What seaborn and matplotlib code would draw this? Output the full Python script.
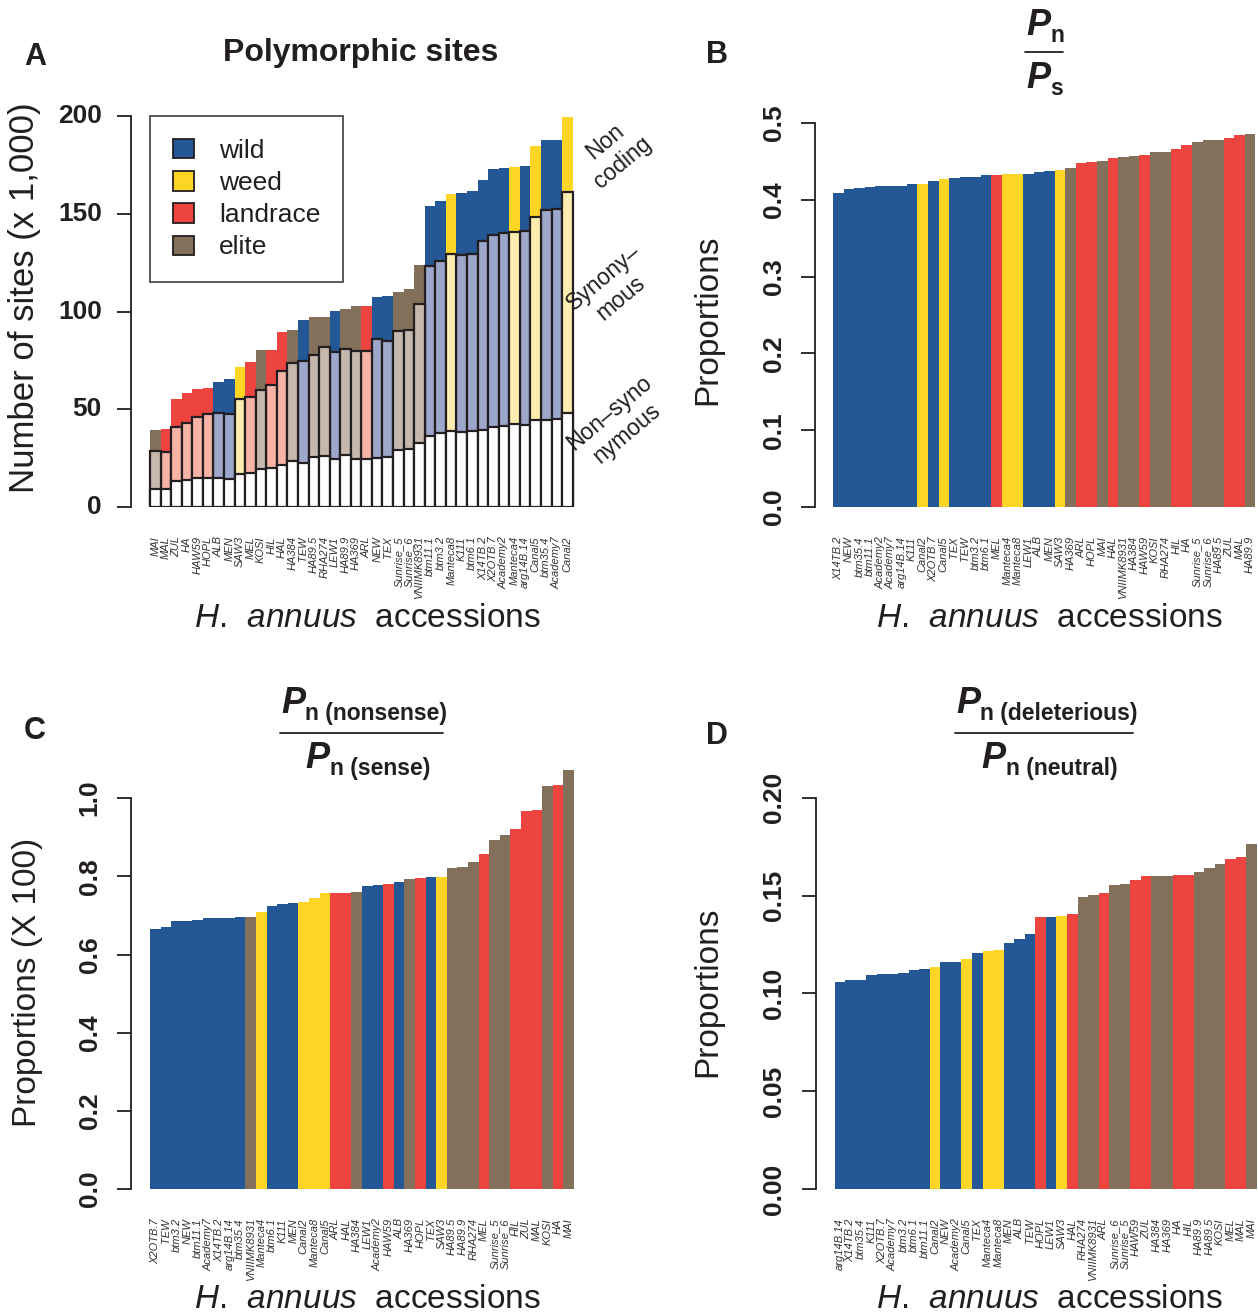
import matplotlib
matplotlib.use("Agg")
import matplotlib.pyplot as plt
from matplotlib.patches import Patch
from matplotlib.lines import Line2D
import numpy as np
import pandas as pd
import seaborn as sns

# accession groups
wild = ['ALB', 'MEN', 'TEW', 'LEW1', 'NEW', 'TEX', 'btm11.1', 'btm3.2', 'K111', 'btm6.1',
        'X14TB.2', 'X2OTB.7', 'Academy2', 'arg14B.14', 'btm35.4', 'Academy7']
weed = ['SAW3', 'Manteca8', 'Manteca4', 'Canal5', 'Canal2']
landrace = ['MAL', 'ZUL', 'HA', 'HAW59', 'HOPL', 'MEL', 'HIL', 'HAL', 'ARL']
elite = ['MAI', 'KOSI', 'HA384', 'HA89.5', 'RHA274', 'HA89.9', 'HA369', 'Sunrise_5',
         'Sunrise_6', 'VNIIMK8931']

groups = ['wild', 'weed', 'landrace', 'elite']
group_colors = {'wild': '#235795', 'weed': '#FDD525', 'landrace': '#EE4440', 'elite': '#82705A'}
light_colors = {'wild': '#9DA6CB', 'weed': '#FEEDAF', 'landrace': '#F7B4A6', 'elite': '#C6B8AC'}

# A - polymorphic sites (x 1,000): nonsynonymous / synonymous / noncoding
a_order = ['MAI', 'MAL', 'ZUL', 'HA', 'HAW59', 'HOPL', 'ALB', 'MEN', 'SAW3', 'MEL', 'KOSI',
           'HIL', 'HAL', 'HA384', 'TEW', 'HA89.5', 'RHA274', 'LEW1', 'HA89.9', 'HA369', 'ARL',
           'NEW', 'TEX', 'Sunrise_5', 'Sunrise_6', 'VNIIMK8931', 'btm11.1', 'btm3.2',
           'Manteca8', 'K111', 'btm6.1', 'X14TB.2', 'X2OTB.7', 'Academy2', 'Manteca4',
           'arg14B.14', 'Canal5', 'btm35.4', 'Academy7', 'Canal2']
a_nonsyn = [9.0, 9.2, 13.3, 13.6, 14.7, 14.8, 14.8, 14.5, 16.9, 17.2, 19.3, 19.9, 21.6, 23.4,
            22.7, 25.4, 26.1, 24.4, 26.4, 24.7, 24.7, 25.1, 25.7, 29.2, 29.5, 32.8, 36.5,
            38.0, 39.0, 38.4, 39.0, 39.4, 41.1, 41.4, 42.5, 41.8, 44.5, 44.5, 44.9, 47.9]
a_syn = [19.8, 18.9, 27.8, 29.2, 31.2, 32.8, 33.5, 33.1, 38.2, 38.9, 40.5, 42.7, 48.1, 50.4,
         52.1, 52.2, 55.6, 54.9, 54.6, 55.3, 55.0, 60.7, 59.1, 60.7, 61.0, 71.2, 87.0, 88.0,
         90.2, 90.3, 90.4, 96.8, 97.9, 98.9, 98.2, 99.5, 104.0, 107.4, 107.7, 113.2]
a_noncoding = [10.6, 11.8, 14.1, 15.3, 14.5, 13.3, 15.6, 17.7, 16.7, 18.1, 20.5, 17.7, 19.8,
               16.7, 20.9, 19.4, 15.3, 21.1, 20.4, 22.8, 23.1, 21.8, 23.1, 20.1, 21.2, 20.0,
               30.5, 30.5, 30.7, 31.7, 32.2, 30.9, 33.7, 32.9, 33.1, 33.0, 36.2, 35.8, 35.1,
               38.5]

# B - Pn / Ps
b_order = ['X14TB.2', 'NEW', 'btm35.4', 'btm11.1', 'Academy2', 'Academy7', 'arg14B.14', 'K111',
           'Canal2', 'X2OTB.7', 'Canal5', 'TEX', 'TEW', 'btm3.2', 'btm6.1', 'MEL', 'Manteca4',
           'Manteca8', 'LEW1', 'ALB', 'MEN', 'SAW3', 'HA369', 'ARL', 'HOPL', 'MAI', 'HAL',
           'VNIIMK8931', 'HA384', 'HAW59', 'KOSI', 'RHA274', 'HIL', 'HA', 'Sunrise_5',
           'Sunrise_6', 'HA89.5', 'ZUL', 'MAL', 'HA89.9']
b_values = [0.409, 0.414, 0.415, 0.417, 0.418, 0.418, 0.418, 0.421, 0.421, 0.425, 0.427,
            0.428, 0.430, 0.430, 0.432, 0.432, 0.434, 0.434, 0.434, 0.436, 0.438, 0.439,
            0.441, 0.448, 0.449, 0.451, 0.454, 0.456, 0.457, 0.458, 0.462, 0.462, 0.466,
            0.471, 0.475, 0.478, 0.478, 0.481, 0.484, 0.486]

# C - Pn(nonsense) / Pn(sense), x 100
c_order = ['X2OTB.7', 'TEW', 'btm3.2', 'NEW', 'btm11.1', 'Academy7', 'X14TB.2', 'arg14B.14',
           'btm35.4', 'VNIIMK8931', 'Manteca4', 'btm6.1', 'K111', 'MEN', 'Canal2', 'Manteca8',
           'Canal5', 'ARL', 'HAL', 'HA384', 'LEW1', 'Academy2', 'HAW59', 'ALB', 'HA369', 'HOPL',
           'TEX', 'SAW3', 'HA89.5', 'HA89.9', 'RHA274', 'MEL', 'Sunrise_5', 'Sunrise_6', 'HIL',
           'ZUL', 'MAL', 'KOSI', 'HA', 'MAI']
c_values = [0.665, 0.670, 0.685, 0.685, 0.688, 0.693, 0.693, 0.693, 0.696, 0.696, 0.708,
            0.724, 0.729, 0.731, 0.734, 0.744, 0.757, 0.757, 0.757, 0.760, 0.775, 0.777,
            0.780, 0.785, 0.793, 0.795, 0.798, 0.798, 0.821, 0.824, 0.836, 0.857, 0.893,
            0.905, 0.921, 0.967, 0.969, 1.031, 1.033, 1.072]

# D - Pn(deleterious) / Pn(neutral)
d_order = ['arg14B.14', 'X14TB.2', 'btm35.4', 'K111', 'X2OTB.7', 'Academy7', 'btm3.2', 'btm6.1',
           'btm11.1', 'Canal2', 'NEW', 'Academy2', 'Canal5', 'TEX', 'Manteca4', 'Manteca8',
           'MEN', 'ALB', 'TEW', 'HOPL', 'LEW1', 'SAW3', 'HAL', 'RHA274', 'VNIIMK8931', 'ARL',
           'Sunrise_6', 'Sunrise_5', 'HAW59', 'ZUL', 'HA384', 'HA369', 'HA', 'HIL', 'HA89.9',
           'HA89.5', 'KOSI', 'MEL', 'MAL', 'MAI']
d_values = [0.1060, 0.1066, 0.1069, 0.1095, 0.1100, 0.1100, 0.1105, 0.1120, 0.1125, 0.1136,
            0.1161, 0.1161, 0.1176, 0.1207, 0.1217, 0.1222, 0.1258, 0.1279, 0.1304, 0.1391,
            0.1391, 0.1396, 0.1407, 0.1494, 0.1504, 0.1514, 0.1555, 0.1560, 0.1581, 0.1601,
            0.1601, 0.1601, 0.1606, 0.1606, 0.1621, 0.1642, 0.1662, 0.1688, 0.1698, 0.1765]

group_of = {}
for name, members in zip(groups, [wild, weed, landrace, elite]):
    for m in members:
        group_of[m] = name

sns.set_style('white')
plt.rcParams['font.family'] = ['Liberation Sans', 'DejaVu Sans']
plt.rcParams['mathtext.fontset'] = 'custom'
plt.rcParams['mathtext.rm'] = 'Liberation Sans'
plt.rcParams['mathtext.it'] = 'Liberation Sans:italic'
plt.rcParams['mathtext.bf'] = 'Liberation Sans:bold'

INK = '#231F20'
W, H = 1258, 1316
fig = plt.figure(figsize=(W / 100, H / 100), dpi=100)


def fx(x):
    return x / W


def fy(y):
    return 1 - y / H


def px_axes(left, top, right, bottom):
    return fig.add_axes([fx(left), fy(bottom), (right - left) / W, (bottom - top) / H])


def style_axes(ax, order, ticks, ticklabels, xlim, ylim, rotate):
    ax.set_xlim(*xlim)
    ax.set_ylim(*ylim)
    for s in ['top', 'right', 'bottom']:
        ax.spines[s].set_visible(False)
    ax.spines['left'].set_bounds(ticks[0], ticks[-1])
    ax.spines['left'].set_linewidth(1.3)
    ax.spines['left'].set_color(INK)
    ax.set_yticks(ticks)
    ax.set_yticklabels(ticklabels, fontsize=19, fontweight='bold', color=INK,
                       rotation=90 if rotate else 0, va='center')
    ax.tick_params(axis='y', length=10, width=1.3, color=INK, pad=11, left=True)
    ax.set_xticks(range(len(order)))
    ax.set_xticklabels(order, rotation=90, fontsize=8, style='italic', color='#333333', va='top')
    ax.tick_params(axis='x', length=0, pad=21)
    ax.set_xlabel('')
    ax.set_ylabel('')
    ax.grid(False)


def ratio_panel(ax, order, values):
    df = pd.DataFrame({'accession': order, 'group': [group_of[a] for a in order],
                       'value': values})
    sns.barplot(data=df, x='accession', y='value', hue='group', hue_order=groups,
                palette=group_colors, order=order, dodge=False, width=1, saturation=1,
                errorbar=None, legend=False, linewidth=0, ax=ax)


# ---- panel A
axA = px_axes(131, 100.4, 590, 507)
dfa = pd.DataFrame({'accession': a_order, 'group': [group_of[a] for a in a_order],
                    'nonsyn': a_nonsyn, 'syn': a_syn, 'noncoding': a_noncoding})
dfa['syn_top'] = dfa['nonsyn'] + dfa['syn']
dfa['total'] = dfa['syn_top'] + dfa['noncoding']
sns.barplot(data=dfa, x='accession', y='total', hue='group', hue_order=groups,
            palette=group_colors, order=a_order, dodge=False, width=1, saturation=1,
            errorbar=None, legend=False, linewidth=0, ax=axA)
sns.barplot(data=dfa, x='accession', y='syn_top', hue='group', hue_order=groups,
            palette=light_colors, order=a_order, dodge=False, width=1, saturation=1,
            errorbar=None, legend=False, edgecolor=INK, linewidth=1.6, ax=axA)
sns.barplot(data=dfa, x='accession', y='nonsyn', color='white', order=a_order, width=1,
            saturation=1, errorbar=None, edgecolor=INK, linewidth=1.6, ax=axA)
style_axes(axA, a_order, [0, 50, 100, 150, 200], ['0', '50', '100', '150', '200'],
           (-2.3, 41.14), (0, 208), False)
handles = [Patch(facecolor=group_colors[g], edgecolor=INK, linewidth=1.3, label=g)
           for g in groups]
leg = axA.legend(handles=handles, loc='upper left', bbox_to_anchor=(fx(150), fy(116)),
                 bbox_transform=fig.transFigure, frameon=True, fancybox=False,
                 edgecolor=INK, fontsize=19, borderpad=0.87, handlelength=0.8,
                 handleheight=0.75, handletextpad=0.95, labelspacing=0.31, borderaxespad=0)
leg.get_frame().set_linewidth(1.3)
for t in leg.get_texts():
    t.set_color(INK)

fig.text(fx(614), fy(152), 'Non\ncoding', rotation=40, ha='center', va='center',
         fontsize=16.5, color=INK, multialignment='center')
fig.text(fx(612), fy(288), 'Synony\u2013\nmous', rotation=40, ha='center', va='center',
         fontsize=16.5, color=INK, multialignment='center')
fig.text(fx(618), fy(423), 'Non\u2013syno\nnymous', rotation=40, ha='center', va='center',
         fontsize=16.5, color=INK, multialignment='center')

# ---- panel B
axB = px_axes(815, 100, 1258, 507)
ratio_panel(axB, b_order, b_values)
style_axes(axB, b_order, [0, 0.1, 0.2, 0.3, 0.4, 0.5],
           ['0.0', '0.1', '0.2', '0.3', '0.4', '0.5'], (-2.2, 39.75), (0, 0.53), True)

# ---- panel C
axC = px_axes(131, 763, 591, 1189)
ratio_panel(axC, c_order, c_values)
style_axes(axC, c_order, [0, 0.2, 0.4, 0.6, 0.8, 1.0],
           ['0.0', '0.2', '0.4', '0.6', '0.8', '1.0'], (-2.3, 41.1), (0, 1.09), True)

# ---- panel D
axD = px_axes(815.5, 788, 1258, 1189)
ratio_panel(axD, d_order, d_values)
style_axes(axD, d_order, [0, 0.05, 0.10, 0.15, 0.20],
           ['0.00', '0.05', '0.10', '0.15', '0.20'], (-2.33, 39.6), (0, 0.205), True)

# ---- labels, titles
for letter, x, y in [('A', 35, 57), ('B', 717, 55), ('C', 35, 731), ('D', 717, 736)]:
    fig.text(fx(x), fy(y), letter, fontsize=22, fontweight='bold', ha='center', va='center',
             color=INK)

fig.text(fx(361), fy(53), 'Polymorphic sites', fontsize=23, fontweight='bold', ha='center',
         va='center', color=INK)

fig.text(fx(25), fy(298), 'Number of sites (x 1,000)', rotation=90, fontsize=25,
         ha='center', va='center', color=INK)
fig.text(fx(708), fy(320), 'Proportions', rotation=90, fontsize=24, ha='center',
         va='center', color=INK)
fig.text(fx(28), fy(982), 'Proportions (X 100)', rotation=90, fontsize=24, ha='center',
         va='center', color=INK)
fig.text(fx(708), fy(992), 'Proportions', rotation=90, fontsize=24, ha='center',
         va='center', color=INK)

xlab = r'$\mathit{H.\ \,annuus}$  accessions'
for x, y in [(367, 618), (1049, 618), (367, 1300), (1049, 1300)]:
    fig.text(fx(x), fy(y), xlab, fontsize=24, ha='center', va='center', color=INK)


def ratio_term(x, y, sub, x_sub):
    # bold italic P with a bold subscript
    fig.text(fx(x), fy(y), 'P', fontsize=26, fontweight='bold', fontstyle='italic',
             ha='left', va='baseline', color=INK)
    fig.text(fx(x_sub), fy(y + 7), sub, fontsize=16.5, fontweight='bold',
             ha='left', va='baseline', color=INK)


def frac_line(x0, x1, y):
    fig.add_artist(Line2D([fx(x0), fx(x1)], [fy(y), fy(y)], color=INK, lw=1.3,
                          transform=fig.transFigure))


ratio_term(1026, 35, 'n', 1050)
ratio_term(1026, 88, 's', 1050)
frac_line(1025, 1063, 52)

ratio_term(281, 713, 'n (nonsense)', 305)
ratio_term(305, 768, 'n (sense)', 330)
frac_line(280, 443, 733)

ratio_term(956, 713, 'n (deleterious)', 980)
ratio_term(981, 768, 'n (neutral)', 1006)
frac_line(955, 1133, 733)

fig.savefig('out.png', dpi=100)
